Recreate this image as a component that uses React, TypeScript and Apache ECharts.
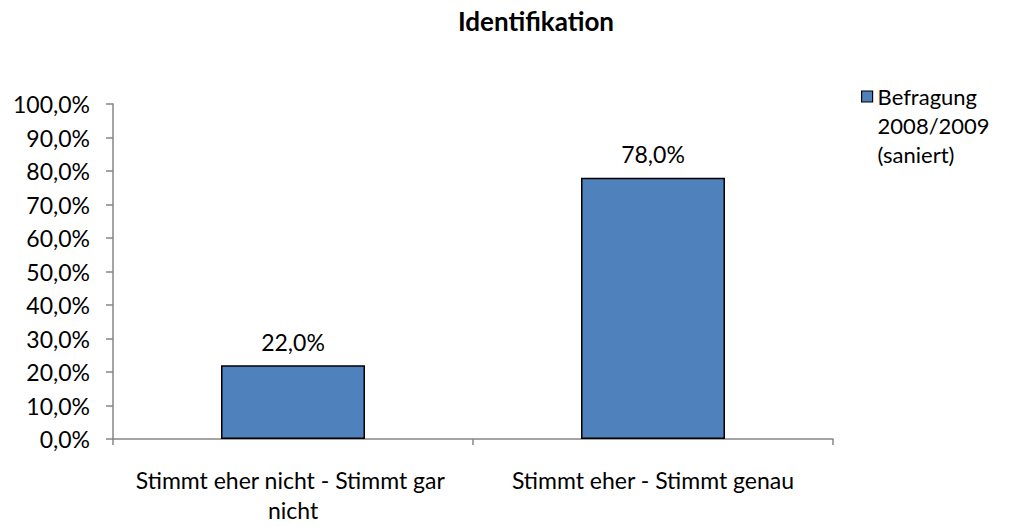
import React, { useEffect, useRef } from "react";
import * as echarts from "echarts";

const title = "Identifikation";
const categories = ["Stimmt eher nicht - Stimmt gar nicht", "Stimmt eher - Stimmt genau"];
const seriesName = "Befragung 2008/2009 (saniert)";
const values = [22.0, 78.0];
const yMin = 0;
const yMax = 100;
const yInterval = 10;

const FONT = "Lato";
const FS = 23;

function pct(v: number): string {
  return v.toFixed(1).replace(".", ",") + "%";
}

export default function App() {
  const ref = useRef<HTMLDivElement>(null);
  useEffect(() => {
    if (!ref.current) return;
    const chart = echarts.init(ref.current, undefined, { renderer: "svg" });
    chart.setOption({
      animation: false,
      backgroundColor: "#ffffff",
      title: {
        text: title,
        left: 531,
        textAlign: "center",
        top: 3,
        textStyle: { fontFamily: FONT, fontSize: 26, fontWeight: "bold", color: "#000" },
      },
      legend: {
        left: 856,
        top: 19,
        data: [seriesName],
        icon: "rect",
        itemWidth: 11,
        itemHeight: 11,
        itemGap: 0,
        formatter: () => " \n \nBefragung\n2008/2009\n(saniert)",
        itemStyle: { borderColor: "#000", borderWidth: 1.2 },
        textStyle: {
          fontFamily: FONT,
          fontSize: FS - 1,
          color: "#000",
          lineHeight: 29,
        },
      },
      grid: { left: 113, right: 182, top: 104, bottom: 88, containLabel: false },
      xAxis: {
        type: "category",
        data: categories,
        axisLine: { lineStyle: { color: "#868686", width: 1.5 } },
        axisTick: { show: true, length: 6, lineStyle: { color: "#868686", width: 1.5 } },
        axisLabel: {
          fontFamily: FONT,
          fontSize: FS,
          color: "#000",
          margin: 26,
          lineHeight: 30,
          width: 330,
          overflow: "break",
          interval: 0,
        },
      },
      yAxis: {
        type: "value",
        min: yMin,
        max: yMax,
        interval: yInterval,
        splitLine: { show: false },
        axisLine: { show: true, lineStyle: { color: "#868686", width: 1.5 } },
        axisTick: { show: true, length: 7, lineStyle: { color: "#868686", width: 1.5 } },
        axisLabel: {
          fontFamily: FONT,
          fontSize: FS,
          color: "#000",
          margin: 23,
          formatter: (v: number) => pct(v),
        },
      },
      series: [
        {
          name: seriesName,
          type: "bar",
          data: values,
          barWidth: "40%",
          itemStyle: { color: "#4F81BD", borderColor: "#000", borderWidth: 1.5 },
          label: {
            show: true,
            position: "top",
            distance: 12,
            fontFamily: FONT,
            fontSize: FS,
            color: "#000",
            formatter: (p: any) => pct(p.value),
          },
        },
      ],
    });
    return () => chart.dispose();
  }, []);
  return <div ref={ref} style={{ width: 1015, height: 527, margin: -8 }} />;
}
